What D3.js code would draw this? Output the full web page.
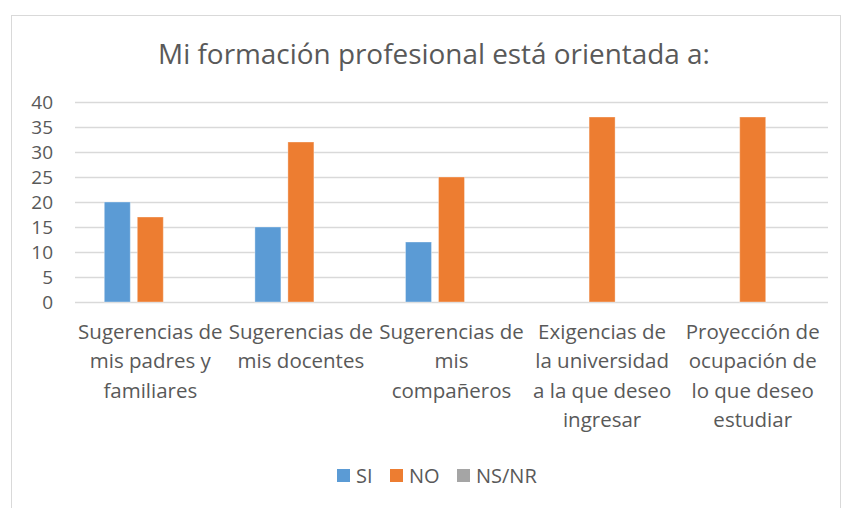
<!DOCTYPE html>
<html>
<head>
<meta charset="utf-8">
<script src="https://d3js.org/d3.v7.min.js"></script>
<style>
  body { margin: 0; background: #fff; }
  text { font-family: "Open Sans", sans-serif; fill: #595959; }
</style>
</head>
<body>
<svg width="846" height="508"></svg>
<script>
// data
var categories = [
  ["Sugerencias de", "mis padres y", "familiares"],
  ["Sugerencias de", "mis docentes"],
  ["Sugerencias de", "mis", "compañeros"],
  ["Exigencias de", "la universidad", "a la que deseo", "ingresar"],
  ["Proyección de", "ocupación de", "lo que deseo", "estudiar"]
];
var seriesNames = ["SI", "NO", "NS/NR"];
var siValues = [20, 15, 12, 0, 0];
var noValues = [17, 32, 25, 37, 37];
var nsnrValues = [0, 0, 0, 0, 0];
var yTicks = [0, 5, 10, 15, 20, 25, 30, 35, 40];

var colors = ["#5b9bd5", "#ed7d31", "#a5a5a5"];
var allSeries = [siValues, noValues, nsnrValues];

var svg = d3.select("svg");

// outer frame
svg.append("rect")
  .attr("x", 11.5).attr("y", 15.5)
  .attr("width", 829).attr("height", 500)
  .attr("fill", "none").attr("stroke", "#d9d9d9");

var plotLeft = 75, plotRight = 828, plotTop = 102, plotBottom = 302;

var x = d3.scaleBand().domain(d3.range(categories.length)).range([plotLeft, plotRight]);
var y = d3.scaleLinear().domain([0, 40]).range([plotBottom, plotTop]);

// inner band for the 3 bars (26px each, 7px gap)
var x1 = d3.scaleBand().domain(d3.range(seriesNames.length))
  .range([0, 92]).paddingInner(7 / 33);

// gridlines
svg.append("g").selectAll("line")
  .data(yTicks)
  .join("line")
    .attr("x1", plotLeft).attr("x2", plotRight)
    .attr("y1", d => Math.round(y(d)) + 0.5)
    .attr("y2", d => Math.round(y(d)) + 0.5)
    .attr("stroke", "#d9d9d9").attr("stroke-width", 1.3);

// y labels
svg.append("g").selectAll("text")
  .data(yTicks)
  .join("text")
    .attr("x", 53)
    .attr("y", d => y(d))
    .attr("dy", "0.35em")
    .attr("text-anchor", "end")
    .attr("font-size", 19)
    .text(d => d);

// bars
var groups = svg.append("g").selectAll("g")
  .data(categories.map(function(c, i) { return i; }))
  .join("g")
    .attr("transform", i => "translate(" + (x(i) + (x.bandwidth() - 92) / 2) + ",0)");

groups.selectAll("rect")
  .data(i => allSeries.map(function(s, k) { return {k: k, v: s[i]}; }))
  .join("rect")
    .attr("x", d => x1(d.k))
    .attr("width", x1.bandwidth())
    .attr("y", d => y(d.v))
    .attr("height", d => y(0) - y(d.v))
    .attr("fill", d => colors[d.k])
    .attr("stroke", "#ffffff").attr("stroke-opacity", 0.35).attr("stroke-width", 1);

// category labels
var lab = svg.append("g").selectAll("text")
  .data(categories)
  .join("text")
    .attr("text-anchor", "middle")
    .attr("font-size", 20.5)
    .attr("transform", (d, i) => "translate(" + (x(i) + x.bandwidth() / 2) + ",339)");
lab.selectAll("tspan")
  .data(d => d)
  .join("tspan")
    .attr("x", 0)
    .attr("y", (d, j) => j * 29.3)
    .text(d => d);

// title
svg.append("text")
  .attr("x", 434).attr("y", 64)
  .attr("text-anchor", "middle")
  .attr("font-size", 27.9)
  .text("Mi formación profesional está orientada a:");

// legend
var legendX = [337, 390, 457];
var leg = svg.append("g").selectAll("g")
  .data(seriesNames)
  .join("g")
    .attr("transform", (d, i) => "translate(" + legendX[i] + ",469)");
leg.append("rect")
  .attr("width", 13).attr("height", 13)
  .attr("fill", (d, i) => colors[i]);
leg.append("text")
  .attr("x", 19).attr("y", 6.5)
  .attr("dy", "0.36em")
  .attr("font-size", 20)
  .text(d => d);
</script>
</body>
</html>
